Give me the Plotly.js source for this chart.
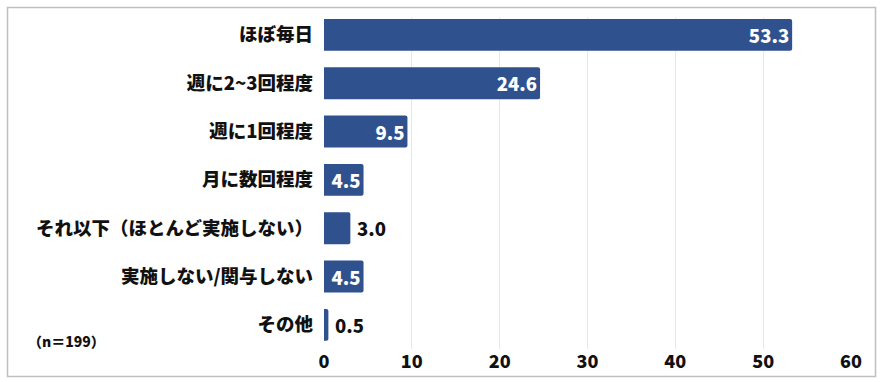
<!DOCTYPE html>
<html>
<head>
<meta charset="utf-8">
<script src="https://cdn.plot.ly/plotly-3.0.1.min.js"></script>
<style>html,body{margin:0;padding:0;background:#fff;}#chart{width:882px;height:382px;}</style>
</head>
<body>
<div id="chart"></div>
<script>
const categories = ["ほぼ毎日", "週に2~3回程度", "週に1回程度", "月に数回程度", "それ以下（ほとんど実施しない）", "実施しない/関与しない", "その他"];
const values = [53.3, 24.6, 9.5, 4.5, 3.0, 4.5, 0.5];
const xTicks = [0, 10, 20, 30, 40, 50, 60];
const sampleNote = "（n＝199）";

const FONT = "'Noto Sans CJK JP', 'Noto Sans', sans-serif";
const barColor = "#2F528F";

const trace = {
  type: "bar",
  orientation: "h",
  y: categories,
  x: values,
  marker: { color: barColor, cornerradius: 2 },
  width: 0.66,
  text: values.map(v => (v >= 4 ? "" : "\u2009") + v.toFixed(1)),
  textposition: values.map(v => v >= 4 ? "inside" : "outside"),
  insidetextanchor: "end",
  insidetextfont: { family: FONT, size: 18.5, color: "#ffffff", weight: 900 },
  outsidetextfont: { family: FONT, size: 18.5, color: "#111111", weight: 900 },
  textangle: 0,
  constraintext: "none",
  cliponaxis: false,
  hoverinfo: "none"
};

const layout = {
  width: 882,
  height: 382,
  margin: { l: 324, r: 31, t: 17, b: 33 },
  paper_bgcolor: "#ffffff",
  plot_bgcolor: "#ffffff",
  showlegend: false,
  bargap: 0.34,
  font: { family: FONT, color: "#111111" },
  xaxis: {
    range: [0, 60],
    autorange: false,
    tickvals: xTicks,
    ticktext: xTicks.map(String),
    tickfont: { family: FONT, size: 18, color: "#111111", weight: 900 },
    showgrid: true,
    gridcolor: "#e8e8e8",
    gridwidth: 1,
    zeroline: false,
    showline: false,
    ticks: ""
  },
  yaxis: {
    type: "category",
    range: [6.5, -0.37],
    autorange: false,
    tickfont: { family: FONT, size: 18.5, color: "#111111", weight: 900 },
    showgrid: false,
    zeroline: false,
    showline: false,
    ticks: "",
    ticklabelstandoff: 10
  },
  annotations: [{
    text: sampleNote,
    xref: "paper", yref: "paper",
    x: (66 - 324) / 527, y: (349 - 341) / 332,
    xanchor: "center", yanchor: "middle",
    showarrow: false,
    font: { family: FONT, size: 14, color: "#111111", weight: 900 }
  }],
  shapes: [{
    type: "rect",
    xref: "paper", yref: "paper",
    x0: (7.5 - 324) / 527, x1: (875.5 - 324) / 527,
    y0: (349 - 376.5) / 332, y1: (349 - 7.5) / 332,
    line: { color: "#bfbfbf", width: 1.5 },
    fillcolor: "rgba(0,0,0,0)",
    layer: "above"
  }]
};

Plotly.newPlot("chart", [trace], layout, { staticPlot: true, displayModeBar: false });
</script>
</body>
</html>
